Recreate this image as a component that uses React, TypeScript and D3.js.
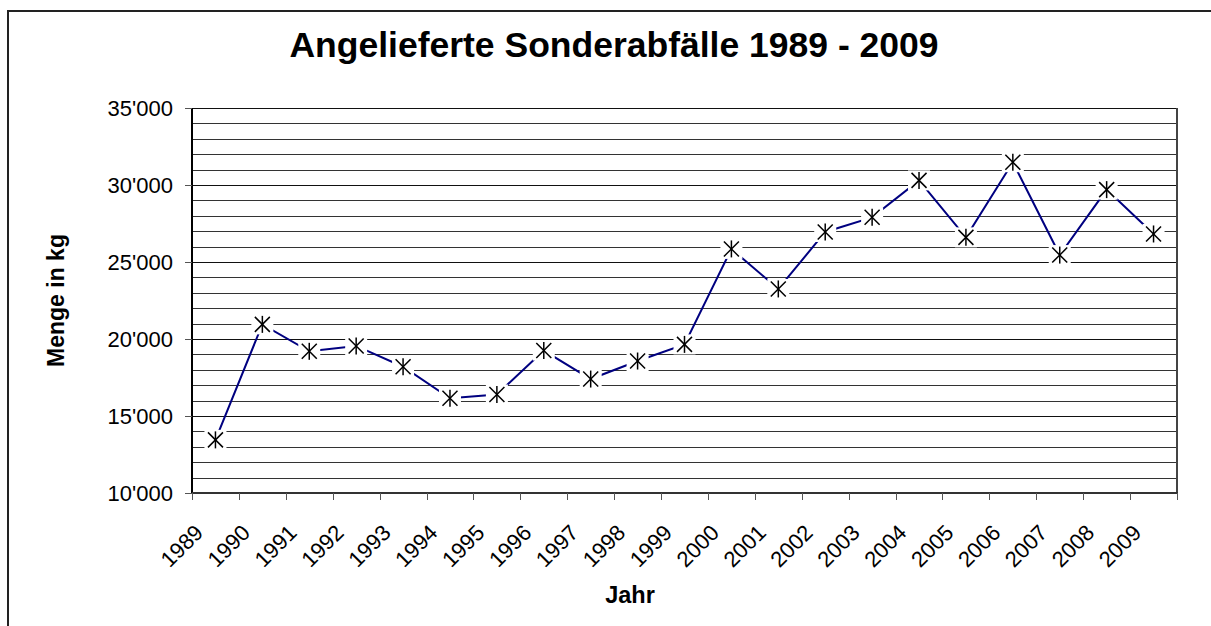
import React from "react";
import * as d3 from "d3";

const years = ["1989","1990","1991","1992","1993","1994","1995","1996","1997","1998","1999","2000","2001","2002","2003","2004","2005","2006","2007","2008","2009"];
const values = [13450, 20950, 19200, 19550, 18200, 16150, 16400, 19250, 17400, 18570, 19650, 25850, 23250, 26950, 27900, 30300, 26600, 31480, 25450, 29700, 26820];
const yTicks = [10000, 15000, 20000, 25000, 30000, 35000];
const title = "Angelieferte Sonderabfälle 1989 - 2009";
const yTitle = "Menge in kg";
const xTitle = "Jahr";

const W = 1211, H = 626;
const L = 192, R = 1177, T = 108, B = 493;
const FONT = "'Liberation Sans', Arial, sans-serif";

export default function App() {
  const x = d3.scaleBand<string>().domain(years).range([L, R]).padding(0);
  const y = d3.scaleLinear().domain([10000, 35000]).range([B, T]);
  const minor = d3.range(11000, 35000, 1000);
  const fmt = (v: number) => d3.format(",")(v).replace(/,/g, "'");
  const cx = (yr: string) => (x(yr) as number) + x.bandwidth() / 2;
  const line = d3.line<number>().x((_, i) => cx(years[i])).y((v) => y(v));
  const bounds = years.map((yr) => x(yr) as number).concat([R]);

  return (
    <svg width={W} height={H} style={{ position: "fixed", left: 0, top: 0, background: "#fff" }} fontFamily={FONT}>
      <rect x={0} y={0} width={W} height={H} fill="#fff" />
      <rect x={8} y={11} width={W + 20} height={H + 20} fill="none" stroke="#222" strokeWidth={2} />
      <text x={614} y={57} textAnchor="middle" fontSize={35.5} fontWeight="bold">{title}</text>
      {minor.map((v) => (
        <line key={v} x1={L} x2={R} y1={Math.round(y(v)) + 0.5} y2={Math.round(y(v)) + 0.5} stroke={v % 5000 === 0 ? "#111" : "#333"} strokeWidth={1} />
      ))}
      <line x1={L} x2={R} y1={T + 0.5} y2={T + 0.5} stroke="#111" strokeWidth={1} />
      <line x1={R} x2={R} y1={T} y2={B} stroke="#444" strokeWidth={2} />
      <line x1={L} x2={L} y1={T} y2={B + 1} stroke="#000" strokeWidth={2} />
      <line x1={L} x2={R + 1} y1={B} y2={B} stroke="#333" strokeWidth={2} />
      {yTicks.map((v) => (
        <g key={v}>
          <line x1={L - 7} x2={L} y1={Math.round(y(v)) + 0.5} y2={Math.round(y(v)) + 0.5} stroke="#555" strokeWidth={1} />
          <text x={173} y={y(v)} dy="0.36em" textAnchor="end" fontSize={22}>{fmt(v)}</text>
        </g>
      ))}
      {bounds.map((bx, i) => (
        <line key={i} x1={Math.round(bx) + 0.5} x2={Math.round(bx) + 0.5} y1={B} y2={B + 7} stroke="#555" strokeWidth={1} />
      ))}
      {years.map((yr) => (
        <text key={yr} transform={`translate(${cx(yr) - 11},534) rotate(-45)`} textAnchor="end" fontSize={22}>{yr}</text>
      ))}
      <text transform={`translate(64,${(T + B) / 2}) rotate(-90)`} textAnchor="middle" fontSize={23} fontWeight="bold">{yTitle}</text>
      <text x={630} y={603} textAnchor="middle" fontSize={23.5} fontWeight="bold">{xTitle}</text>
      <path d={line(values) || ""} fill="none" stroke="#000080" strokeWidth={2} />
      {values.map((v, i) => {
        const px = cx(years[i]);
        const py = y(v);
        const s = 7.5;
        return (
          <g key={i}>
            <rect x={px - 11} y={py - 10} width={22} height={20} fill="#fff" />
            <line x1={px - s} y1={py - s} x2={px + s} y2={py + s} stroke="#000" strokeWidth={1.5} />
            <line x1={px - s} y1={py + s} x2={px + s} y2={py - s} stroke="#000" strokeWidth={1.5} />
            <line x1={px} y1={py - s - 1} x2={px} y2={py + s + 1} stroke="#000" strokeWidth={1.5} />
          </g>
        );
      })}
    </svg>
  );
}
